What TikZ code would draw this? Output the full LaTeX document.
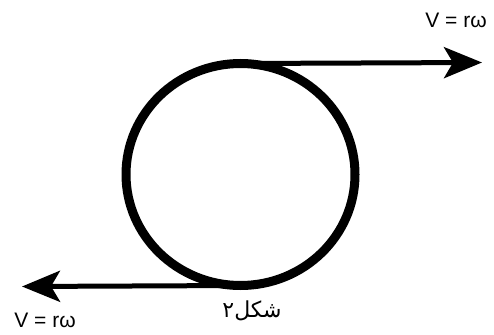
\documentclass[tikz,border=0pt]{standalone}
\usepackage{fontspec}
\setmainfont{Liberation Sans}
\newfontfamily\arabicfont[Script=Arabic]{DejaVu Sans}
\TeXXeTstate=1
\usepackage{tikz}
\usetikzlibrary{arrows.meta}

\begin{document}
\begin{tikzpicture}[x=1pt,y=-1pt,
  vel/.style={line width=5pt,-{Stealth[length=38pt,width=31pt,inset=9pt]}},
  lbl/.style={inner sep=0pt,font=\fontsize{21}{23}\selectfont}]
  \useasboundingbox (0,0) rectangle (494,334);
  % wheel
  \draw[line width=9pt] (240.5,174.5) ellipse [x radius=114.5, y radius=111];
  \coordinate (topt) at (240.5,63.5);
  \coordinate (bott) at (240.5,285.5);
  \coordinate (tipr) at (482,62.5);
  \coordinate (tipl) at (22,286.5);
  % velocities
  \draw[vel] (topt) -- (tipr);
  \draw[vel] (bott) -- (tipl);
  \node[lbl] (vtop) at (456,20) {V = rω};
  \node[lbl] (vbot) at (45,320) {V = rω};
  \node[lbl,font=\fontsize{22}{24}\selectfont] (cap) at (252,311) {\arabicfont\beginR شکل۲\endR};
\end{tikzpicture}
\end{document}
